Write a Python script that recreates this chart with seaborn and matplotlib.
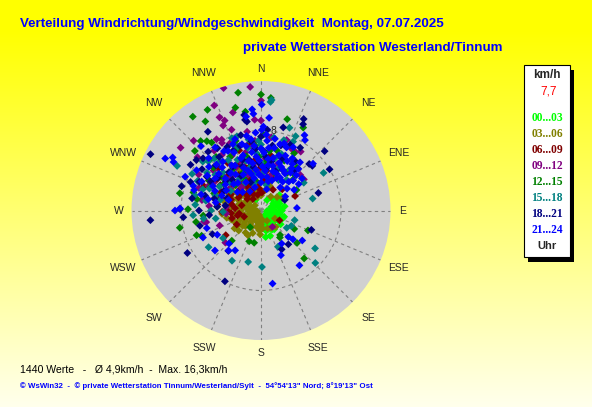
import numpy as np
import pandas as pd
import seaborn as sns
import matplotlib.pyplot as plt
from matplotlib.patches import Rectangle

# wind direction (deg, clockwise from N) and speed (km/h), one list per 3-hour block
pts_00_03 = [(60, 2.2), (65, 1.7), (70, 2.0), (75, 1.3), (80, 1.8), (85, 1.0), (90, 2.1), (95, 1.5),
             (100, 0.8), (100, 1.9), (105, 1.2), (110, 1.6), (110, 2.3), (115, 0.9), (120, 1.4),
             (120, 2.0), (125, 1.1), (130, 1.7), (130, 0.6), (135, 1.3), (140, 1.9), (140, 0.9),
             (145, 1.5), (150, 1.1), (150, 2.2), (155, 1.6), (160, 0.8), (160, 2.0), (165, 1.3),
             (166, 2.1), (170, 2.7), (175, 1.0), (180, 1.5), (190, 0.8), (200, 1.1), (45, 1.6),
             (50, 2.4), (30, 1.2), (320, 1.6), (330, 2.1), (335, 1.2), (340, 2.6), (345, 3.1),
             (350, 1.8), (315, 2.4), (160, 2.7), (70, 1.1), (80, 2.4), (90, 1.2), (95, 0.6),
             (105, 2.4), (115, 1.9), (125, 2.4), (135, 0.8), (145, 2.3), (155, 0.9), (170, 1.6),
             (185, 1.0), (55, 2.0), (60, 1.4)]
pts_03_06 = [(170, 1.0), (180, 1.4), (185, 2.0), (190, 0.7), (195, 1.7), (200, 2.4), (205, 1.1),
             (210, 1.9), (215, 2.7), (220, 0.9), (222, 1.5), (225, 2.2), (228, 3.0), (232, 1.2),
             (235, 2.0), (238, 2.7), (241, 1.6), (244, 0.6), (247, 2.3), (250, 1.3), (253, 3.1),
             (256, 0.9), (259, 1.9), (262, 2.6), (265, 1.2), (268, 3.4), (271, 2.0), (274, 0.8),
             (277, 2.8), (280, 1.5), (283, 3.7), (286, 2.3), (289, 1.1), (292, 3.0), (296, 1.8),
             (300, 2.5), (304, 3.4), (308, 1.4), (312, 2.2), (316, 4.2), (320, 3.0), (324, 1.7),
             (328, 2.6), (332, 4.6), (336, 2.0), (340, 3.4), (344, 1.4), (348, 2.8), (352, 4.0),
             (356, 2.2), (0, 1.5), (5, 3.0), (10, 2.0), (20, 2.6), (35, 1.7), (50, 2.1), (60, 2.5),
             (120, 1.6), (138, 2.2), (150, 1.2), (160, 1.9), (227, 1.1), (241, 2.6), (265, 3.9),
             (290, 4.5), (200, 0.5), (260, 0.4), (310, 0.8), (182, 2.4), (198, 1.2), (208, 2.8),
             (218, 1.7), (230, 2.4), (236, 3.2), (243, 1.1), (248, 2.9), (254, 1.7), (258, 3.5),
             (264, 2.3), (270, 1.0), (273, 3.2), (279, 2.1), (284, 1.3), (288, 3.5), (294, 2.4),
             (298, 3.8), (302, 1.6), (306, 2.9), (314, 3.6), (318, 1.9), (326, 3.4), (334, 2.8),
             (342, 2.3), (350, 1.9), (216, 0.8), (235, 0.7), (280, 0.7), (150, 2.0), (175, 1.8)]
pts_06_09 = [(240, 2.8), (250, 1.8), (255, 3.0), (262, 2.2), (268, 3.9), (270, 3.4), (275, 2.6),
             (285, 2.0), (290, 3.2), (293, 6.2), (295, 4.4), (300, 2.6), (300, 6.0), (305, 3.8),
             (305, 5.4), (310, 1.8), (315, 3.0), (315, 6.0), (318, 4.8), (320, 2.2), (322, 3.6),
             (325, 1.4), (325, 5.8), (328, 4.2), (330, 2.8), (332, 5.2), (335, 1.8), (338, 3.4),
             (340, 4.6), (340, 6.4), (342, 2.4), (345, 3.8), (348, 1.6), (350, 3.0), (350, 6.8),
             (352, 5.0), (355, 2.2), (0, 3.6), (3, 1.8), (8, 4.0), (10, 5.6), (12, 2.8), (20, 3.4),
             (30, 2.4), (45, 3.0), (67, 3.7), (118, 2.1), (235, 4.3), (282, 3.0), (288, 4.2),
             (298, 3.4), (302, 4.8), (308, 2.6), (312, 4.0), (317, 2.0), (323, 4.6), (327, 3.2),
             (333, 2.2), (337, 4.2), (343, 3.0), (347, 4.6), (353, 2.6), (358, 4.2), (5, 3.0),
             (15, 4.6), (278, 4.4), (265, 3.0), (258, 2.4)]
pts_09_12 = [(343, 12.8), (355, 12.4), (336, 11.5), (336, 10.2), (338, 9.7), (336, 9.3), (344, 10.2),
             (356, 9.1), (316, 9.7), (308, 10.2), (328, 8.4), (331, 8.1), (0, 11.0), (0, 9.0),
             (20, 7.5), (26, 6.9), (34, 7.1), (30, 6.8), (48, 5.3), (54, 5.3), (250, 4.4), (258, 5.6),
             (259, 5.8), (228, 4.8), (145, 2.0), (276, 3.5), (265, 3.5), (300, 5.5), (310, 6.2),
             (320, 4.5), (325, 6.8), (330, 5.0), (335, 7.4), (340, 3.8), (345, 6.0), (350, 4.6),
             (355, 7.0), (5, 5.2), (10, 6.4), (15, 3.6), (285, 4.8), (290, 6.6), (275, 5.2),
             (320, 3.0), (345, 2.5), (0, 3.5), (305, 3.8), (350, 8.0), (330, 7.8), (340, 8.6),
             (310, 8.3), (280, 6.0), (295, 5.8), (315, 4.4), (322, 7.6), (332, 6.2), (342, 5.2),
             (352, 6.4), (357, 3.8), (8, 7.4), (20, 5.0), (300, 7.2), (327, 3.8), (337, 5.4),
             (312, 5.0)]
pts_12_15 = [(349, 12.0), (324, 11.6), (332, 11.4), (328, 10.5), (351, 10.0), (346, 10.6), (319, 9.2),
             (322, 8.8), (324, 8.4), (312, 8.9), (282, 8.3), (271, 7.3), (0, 11.6), (5, 11.3),
             (16, 9.5), (27, 9.3), (44, 4.9), (46, 4.4), (60, 4.1), (113, 5.1), (119, 3.8), (142, 3.1),
             (145, 3.3), (132, 4.85), (138, 6.45), (258, 8.3), (249, 6.9), (247, 6.45), (224, 4.2),
             (213, 2.0), (192, 3.3), (201, 3.3), (300, 6.0), (310, 5.2), (320, 7.0), (330, 6.2),
             (335, 4.2), (345, 5.6), (355, 6.5), (5, 4.8), (15, 6.2), (25, 5.5), (35, 4.6), (290, 5.0),
             (280, 6.5), (265, 5.8), (340, 7.4), (350, 3.0), (315, 3.6), (285, 7.0), (295, 5.6),
             (305, 4.6), (315, 7.2), (325, 5.0), (338, 6.6), (348, 4.6), (358, 5.4), (8, 6.0),
             (20, 4.0), (30, 6.6), (40, 5.6), (275, 4.4), (260, 6.6), (312, 6.4), (332, 3.6), (2, 7.6)]
pts_15_18 = [(5, 10.9), (5.5, 11.1), (298, 9.5), (266, 6.8), (313, 7.2), (342, 7.8), (19, 8.75),
             (25, 8.2), (25, 7.6), (31, 5.9), (57, 5.1), (59, 7.3), (77, 5.3), (106, 3.5), (117, 3.4),
             (124, 3.1), (155, 4.0), (125, 6.6), (134, 7.55), (179, 5.65), (234, 4.7), (235, 6.4),
             (210, 5.8), (194, 5.3), (290, 6.2), (295, 7.0), (300, 4.8), (305, 6.6), (310, 7.6),
             (315, 5.4), (320, 6.4), (325, 3.8), (330, 7.0), (335, 5.6), (340, 6.8), (345, 4.4),
             (350, 7.2), (355, 5.8), (0, 6.6), (5, 3.9), (10, 7.4), (15, 5.4), (20, 6.0), (280, 5.6),
             (270, 5.0), (260, 4.6), (285, 4.2), (345, 2.8), (330, 3.2), (0, 4.8), (12, 2.6), (30, 3.5),
             (40, 4.0), (283, 6.8), (288, 4.8), (293, 5.6), (298, 7.8), (303, 3.6), (308, 5.8),
             (312, 4.2), (318, 7.0), (322, 4.8), (327, 6.0), (333, 4.0), (338, 7.8), (343, 5.2),
             (348, 6.4), (353, 3.8), (358, 7.0), (3, 5.6), (8, 4.4), (18, 7.4), (22, 4.4), (35, 5.0),
             (262, 5.8), (275, 6.6), (268, 3.8)]
pts_18_21 = [(297, 12.4), (308, 8.2), (318, 7.9), (303, 8.4), (287, 8.3), (265, 11.1), (271, 8.1),
             (265, 7.8), (256, 6.3), (25, 10.1), (26, 9.6), (4.5, 8.1), (47, 8.7), (59, 8.0), (46, 6.7),
             (49, 6.8), (24, 7.2), (73, 6.0), (66, 2.6), (111, 5.4), (141, 4.35), (152, 4.4), (240, 8.5),
             (244, 5.4), (207, 7.95), (219, 5.2), (350, 9.2), (350, 9.7), (351, 9.0), (326, 9.5),
             (295, 6.8), (300, 5.8), (305, 7.2), (310, 4.6), (315, 6.4), (320, 5.0), (325, 7.6),
             (330, 4.0), (335, 6.6), (340, 5.4), (345, 7.8), (350, 4.4), (355, 6.2), (0, 7.4), (5, 5.4),
             (10, 6.6), (20, 4.2), (285, 5.8), (280, 7.0), (275, 4.4), (290, 3.6), (340, 3.0), (15, 8.6),
             (35, 6.0), (284, 4.8), (292, 7.6), (298, 4.2), (302, 6.4), (307, 5.4), (312, 7.8),
             (317, 4.2), (322, 6.8), (327, 5.2), (332, 7.2), (337, 4.8), (342, 6.8), (347, 5.2),
             (352, 7.0), (357, 4.8), (2, 6.0), (7, 4.2), (12, 5.0), (17, 6.8), (22, 5.6), (28, 4.6),
             (32, 7.4), (40, 5.2), (265, 5.2), (270, 6.2), (278, 3.6)]
pts_21_24 = [(298.5, 10.9), (301, 10.3), (299, 10.0), (317, 8.8), (294, 8.3), (271.5, 8.1), (270, 8.6),
             (252, 5.7), (351, 9.5), (355, 10.15), (355.5, 9.7), (0.4, 10.6), (5, 9.3), (0.5, 8.05),
             (1.6, 8.4), (30, 8.7), (32, 8.3), (39, 6.2), (48, 7.0), (52, 5.2), (45, 5.0), (86, 3.6),
             (134, 3.8), (132, 4.3), (126, 5.1), (148, 3.9), (156, 4.9), (145, 6.7), (171, 7.4),
             (245, 6.4), (241, 5.0), (229, 6.1), (224, 4.6), (219, 5.15), (213, 4.75),
             (280, 4.6), (285, 6.2), (288, 3.4), (290, 7.2), (293, 5.0), (296, 6.6), (300, 4.0),
             (302, 7.6), (305, 5.6), (308, 3.0), (310, 6.8), (312, 4.8), (315, 7.4), (318, 5.8),
             (320, 3.6), (322, 6.2), (325, 4.4), (328, 7.0), (330, 5.2), (332, 3.2), (335, 6.4),
             (338, 4.6), (340, 7.6), (342, 5.8), (345, 3.8), (347, 6.6), (350, 4.8), (352, 7.2),
             (355, 5.4), (357, 3.6), (0, 6.2), (2, 4.4), (5, 7.0), (8, 5.2), (10, 3.4), (12, 6.4),
             (15, 4.6), (18, 5.8), (20, 3.2), (22, 6.8), (25, 4.8), (28, 5.6), (30, 3.8), (33, 4.4),
             (36, 5.2), (40, 3.0), (44, 4.0), (50, 3.4), (55, 4.6), (60, 2.8), (345, 2.4), (330, 2.2),
             (315, 2.6), (0, 2.8), (15, 2.2), (342, 4.2), (344, 6.9), (346, 5.1), (348, 3.3),
             (349, 7.6), (351, 5.9), (353, 4.1), (354, 6.5), (356, 7.8), (358, 5.0), (1, 3.4),
             (3, 5.8), (4, 7.6), (6, 4.0), (7, 6.3), (9, 4.6), (11, 7.3), (13, 5.4), (14, 3.0),
             (16, 6.9), (17, 4.1), (19, 7.1), (21, 5.1), (23, 4.0), (24, 6.0), (26, 3.6), (27, 7.1),
             (29, 4.6), (31, 6.1), (34, 5.6), (37, 3.6), (38, 4.8), (42, 5.6), (47, 4.4), (58, 3.9),
             (282, 5.4), (287, 7.0), (291, 4.2), (297, 5.4), (303, 6.4), (306, 4.4), (311, 5.6),
             (314, 3.8), (316, 6.4), (321, 4.8), (324, 7.8), (327, 5.4), (331, 6.8), (334, 4.0),
             (337, 7.2), (339, 5.6)]

periods = ['00...03', '03...06', '06...09', '09...12', '12...15', '15...18', '18...21', '21...24']
period_colors = ['#00ff00', '#808000', '#800000', '#800080', '#008000', '#008080', '#000080', '#0000ff']
compass = ['N', 'NNE', 'NE', 'ENE', 'E', 'ESE', 'SE', 'SSE',
           'S', 'SSW', 'SW', 'WSW', 'W', 'WNW', 'NW', 'NNW']

title = 'Verteilung Windrichtung/Windgeschwindigkeit  Montag, 07.07.2025'
subtitle = 'private Wetterstation Westerland/Tinnum'
stats = '1440 Werte   -   \u00d8 4,9km/h  -  Max. 16,3km/h'
footer = '\u00a9 WsWin32  -  \u00a9 private Wetterstation Tinnum/Westerland/Sylt  -  54\u00b054\'13" Nord; 8\u00b019\'13" Ost'

frames = []
for label, pts in zip(periods, [pts_00_03, pts_03_06, pts_06_09, pts_09_12,
                                pts_12_15, pts_15_18, pts_18_21, pts_21_24]):
    d = pd.DataFrame(pts, columns=['dir', 'speed'])
    d['period'] = label
    frames.append(d)
df = pd.concat(frames, ignore_index=True)
df['theta'] = np.deg2rad(df['dir'])

sns.set_style('white')
plt.rcParams['font.family'] = ['Liberation Sans', 'DejaVu Sans']

W, H = 592, 407
fig = plt.figure(figsize=(W / 100, H / 100), dpi=100)


def fx(x):
    return x / W


def fy(y):
    return 1 - y / H


# yellow -> pale yellow background
rows = np.arange(H)
blue = np.clip((rows - 30) / (H - 30), 0, 1) * 0.93
grad = np.stack([np.ones(H), np.ones(H), blue], axis=1)[:, None, :]
bg = fig.add_axes([0, 0, 1, 1], zorder=-10)
bg.imshow(grad, aspect='auto', extent=[0, 1, 0, 1])
bg.set_axis_off()

# polar plot: centre (261, 210.5) px, radius 129.5 px
cx, cy, rad = 261, 210.5, 129.5
ax = fig.add_axes([fx(cx - rad), fy(cy + rad), 2 * rad / W, 2 * rad / H], projection='polar')
ax.set_theta_zero_location('N')
ax.set_theta_direction(-1)
ax.set_facecolor('#d0d0d0')
ax.set_axisbelow(True)

sns.scatterplot(data=df, x='theta', y='speed', hue='period', hue_order=periods,
                palette=dict(zip(periods, period_colors)), marker='D', s=16,
                linewidth=0, legend=False, ax=ax)

ax.set_ylim(0, 12.95)
ax.set_xticks(np.deg2rad(np.arange(0, 360, 22.5)))
ax.set_xticklabels([])
ax.set_yticks([8])
ax.set_yticklabels([])
ax.grid(True, color='#808080', linestyle=(0, (3, 3)), linewidth=0.8)
ax.spines['polar'].set_visible(False)
ax.set_xlabel('')
ax.set_ylabel('')
ax.text(np.deg2rad(8.6), 8.05, '8', ha='center', va='center', fontsize=7.5, zorder=5)

for i, lab in enumerate(compass):
    th = i * 22.5
    r = 14.2 + 1.0 * abs(np.sin(np.deg2rad(2 * th)))
    ax.text(np.deg2rad(th), r, lab, ha='center', va='center', fontsize=7.5, clip_on=False)

# titles and footer
fig.text(fx(20), fy(24), title, ha='left', va='center', fontsize=9.6,
         fontweight='bold', color='#0000ff')
fig.text(fx(243), fy(48), subtitle, ha='left', va='center', fontsize=9.6,
         fontweight='bold', color='#0000ff')
fig.text(fx(20), fy(370), stats, ha='left', va='center', fontsize=7.6, color='black')
fig.text(fx(20), fy(386), footer, ha='left', va='center', fontsize=5.7,
         fontweight='bold', color='#0000ff')

# legend box with shadow
fig.add_artist(Rectangle((fx(528), fy(262)), 46 / W, 192 / H, transform=fig.transFigure,
                         facecolor='black', edgecolor='none'))
fig.add_artist(Rectangle((fx(524), fy(257)), 46 / W, 192 / H, transform=fig.transFigure,
                         facecolor='white', edgecolor='black', linewidth=0.8))
lx = 547
fig.text(fx(lx), fy(75), 'km/h', ha='center', va='center', fontsize=8.5, fontweight='bold')
fig.text(fx(lx + 2), fy(91), '7,7', ha='center', va='center', fontsize=8.5, color='#ff0000')
for k, (lab, col) in enumerate(zip(periods, period_colors)):
    fig.text(fx(lx), fy(118 + 16 * k), lab, ha='center', va='center', fontsize=8.3,
             fontweight='bold', color=col, family=['Liberation Serif', 'DejaVu Serif'])
fig.text(fx(lx), fy(246), 'Uhr', ha='center', va='center', fontsize=8, fontweight='bold')

fig.savefig('out.png', dpi=100)
